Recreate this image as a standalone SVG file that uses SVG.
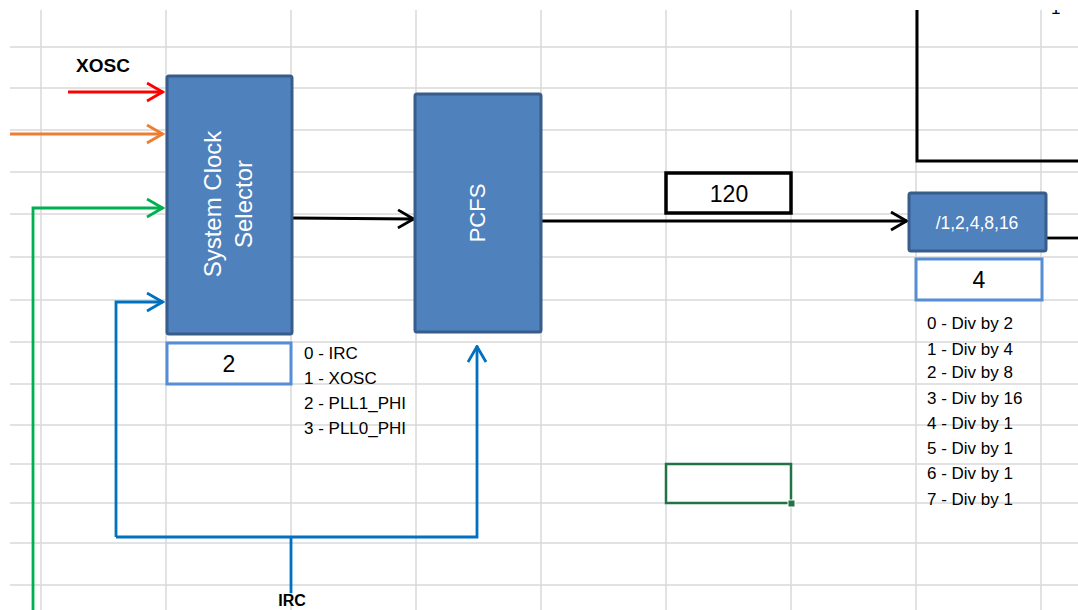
<svg xmlns="http://www.w3.org/2000/svg" width="1078" height="610" viewBox="0 0 1078 610">
<style>
.grid line{stroke:#d9d9d9;stroke-width:1.5}
.blk{fill:#4f81bd;stroke:#385d8a;stroke-width:3}
.reg{fill:#fff;stroke:#558ed5;stroke-width:3}
.wt{fill:#fff;font-family:"Liberation Sans",Arial,sans-serif;text-anchor:middle}
.lbl{fill:#000;font-family:"Liberation Sans",Arial,sans-serif}
.bold{font-weight:bold;text-anchor:middle}
.lst{font-size:17px}
.num{font-size:23px;text-anchor:middle}
.ln{fill:none}
</style>
<defs>
<marker id="ak" viewBox="0 0 19 21" refX="17.5" refY="10.5" markerWidth="19" markerHeight="21" markerUnits="userSpaceOnUse" orient="auto"><path d="M1.5,1.5 L17,10.5 L1.5,19.5" fill="none" stroke="#000" stroke-width="2.8"/></marker>
<marker id="ar" viewBox="0 0 19 21" refX="17.5" refY="10.5" markerWidth="19" markerHeight="21" markerUnits="userSpaceOnUse" orient="auto"><path d="M1.5,1.5 L17,10.5 L1.5,19.5" fill="none" stroke="#ff0000" stroke-width="2.8"/></marker>
<marker id="ao" viewBox="0 0 19 21" refX="17.5" refY="10.5" markerWidth="19" markerHeight="21" markerUnits="userSpaceOnUse" orient="auto"><path d="M1.5,1.5 L17,10.5 L1.5,19.5" fill="none" stroke="#ed7d31" stroke-width="2.8"/></marker>
<marker id="ag" viewBox="0 0 19 21" refX="17.5" refY="10.5" markerWidth="19" markerHeight="21" markerUnits="userSpaceOnUse" orient="auto"><path d="M1.5,1.5 L17,10.5 L1.5,19.5" fill="none" stroke="#00b050" stroke-width="2.8"/></marker>
<marker id="ab" viewBox="0 0 19 21" refX="17.5" refY="10.5" markerWidth="19" markerHeight="21" markerUnits="userSpaceOnUse" orient="auto"><path d="M1.5,1.5 L17,10.5 L1.5,19.5" fill="none" stroke="#0070c0" stroke-width="2.8"/></marker>
<clipPath id="top"><rect x="0" y="10" width="1078" height="600"/></clipPath>
</defs>
<rect width="1078" height="610" fill="#fff"/>
<g class="grid">
<line x1="41" y1="10" x2="41" y2="610"/><line x1="166" y1="10" x2="166" y2="610"/><line x1="291" y1="10" x2="291" y2="610"/><line x1="416" y1="10" x2="416" y2="610"/><line x1="541" y1="10" x2="541" y2="610"/><line x1="666" y1="10" x2="666" y2="610"/><line x1="791" y1="10" x2="791" y2="610"/><line x1="916" y1="10" x2="916" y2="610"/><line x1="1041" y1="10" x2="1041" y2="610"/>
<line x1="10" y1="47" x2="1078" y2="47"/><line x1="10" y1="88" x2="1078" y2="88"/><line x1="10" y1="130" x2="1078" y2="130"/><line x1="10" y1="172" x2="1078" y2="172"/><line x1="10" y1="214" x2="1078" y2="214"/><line x1="10" y1="257" x2="1078" y2="257"/><line x1="10" y1="300" x2="1078" y2="300"/><line x1="10" y1="342" x2="1078" y2="342"/><line x1="10" y1="384" x2="1078" y2="384"/><line x1="10" y1="425" x2="1078" y2="425"/><line x1="10" y1="464" x2="1078" y2="464"/><line x1="10" y1="503" x2="1078" y2="503"/><line x1="10" y1="543" x2="1078" y2="543"/><line x1="10" y1="585" x2="1078" y2="585"/>
</g>
<text class="lbl" x="1051" y="14" font-size="17" clip-path="url(#top)">1</text>
<g id="connectors">
<line class="ln" x1="68" y1="92" x2="163" y2="92" stroke="#ff0000" stroke-width="2.8" marker-end="url(#ar)"/>
<line class="ln" x1="10" y1="134" x2="163" y2="134" stroke="#ed7d31" stroke-width="2.8" marker-end="url(#ao)"/>
<polyline class="ln" points="33,610 33,208 163,208" stroke="#00b050" stroke-width="2.8" marker-end="url(#ag)"/>
<polyline class="ln" points="116,537 116,302 163,302" stroke="#0070c0" stroke-width="2.8" marker-end="url(#ab)"/>
<polyline class="ln" points="116,537 477,537 477,346" stroke="#0070c0" stroke-width="2.8" marker-end="url(#ab)"/>
<line class="ln" x1="291" y1="537" x2="291" y2="593" stroke="#0070c0" stroke-width="2.8"/>
<line class="ln" x1="293" y1="218" x2="414" y2="219" stroke="#000" stroke-width="2.8" marker-end="url(#ak)"/>
<line class="ln" x1="542" y1="221" x2="907" y2="221" stroke="#000" stroke-width="2.8" marker-end="url(#ak)"/>
<line class="ln" x1="1047" y1="238" x2="1078" y2="238" stroke="#000" stroke-width="2.8"/>
<polyline class="ln" points="917,10 917,161 1078,161" stroke="#000" stroke-width="3"/>
</g>
<g id="xosc-label"><text class="lbl bold" x="103" y="72" font-size="19">XOSC</text></g>
<g id="irc-label"><text class="lbl bold" x="292" y="606" font-size="16">IRC</text></g>
<g id="sys-clock-selector">
<rect class="blk" x="167" y="76" width="125" height="258" rx="2"/>
<text class="wt" font-size="24" transform="translate(229,204) rotate(-90)"><tspan x="0" y="-8.5">System Clock</tspan><tspan x="0" y="22.5">Selector</tspan></text>
</g>
<g id="sel-reg">
<rect class="reg" x="167" y="343" width="124" height="41"/>
<text class="lbl num" x="229" y="372">2</text>
</g>
<g id="sel-list" class="lbl lst">
<text x="304" y="359">0 - IRC</text>
<text x="304" y="384">1 - XOSC</text>
<text x="304" y="409">2 - PLL1_PHI</text>
<text x="304" y="434">3 - PLL0_PHI</text>
</g>
<g id="pcfs">
<rect class="blk" x="415" y="94" width="126" height="238" rx="2"/>
<text class="wt" font-size="22" transform="translate(477,213) rotate(-90)" y="8">PCFS</text>
</g>
<g id="freq">
<rect x="666" y="173" width="125" height="40" fill="#fff" stroke="#000" stroke-width="3.5"/>
<text class="lbl num" x="729" y="202">120</text>
</g>
<g id="divider">
<rect class="blk" x="909" y="193" width="137" height="58" rx="2"/>
<text class="wt" font-size="17.5" x="977" y="229">/1,2,4,8,16</text>
</g>
<g id="div-reg">
<rect class="reg" x="916" y="259" width="126" height="41"/>
<text class="lbl num" x="979" y="288">4</text>
</g>
<g id="div-list" class="lbl lst">
<text x="927" y="329">0 - Div by 2</text>
<text x="927" y="355">1 - Div by 4</text>
<text x="927" y="378">2 - Div by 8</text>
<text x="927" y="404">3 - Div by 16</text>
<text x="927" y="429">4 - Div by 1</text>
<text x="927" y="454">5 - Div by 1</text>
<text x="927" y="479">6 - Div by 1</text>
<text x="927" y="505">7 - Div by 1</text>
</g>
<g id="selected-cell">
<rect x="666" y="464" width="125" height="39" fill="none" stroke="#217346" stroke-width="2.5"/>
<rect x="788" y="500" width="7" height="7" fill="#217346" stroke="#fff" stroke-width="1"/>
</g>
</svg>
